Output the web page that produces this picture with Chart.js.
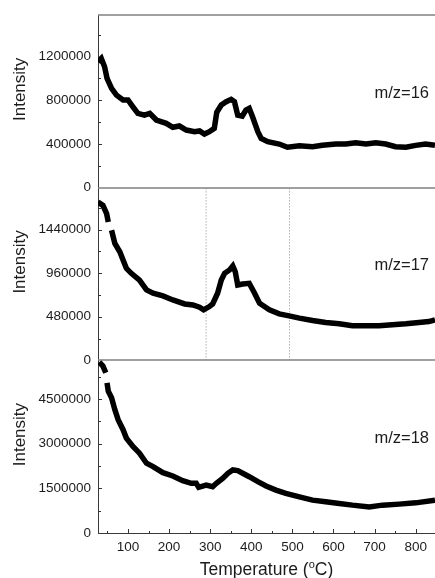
<!DOCTYPE html>
<html>
<head>
<meta charset="utf-8">
<script src="https://cdn.jsdelivr.net/npm/chart.js@4/dist/chart.umd.min.js"></script>
<style>
  html, body { margin: 0; padding: 0; background: #fff; }
  canvas { display: block; }
</style>
</head>
<body>
<canvas id="ms" width="435" height="578" style="width:435px;height:578px"></canvas>
<script>
// Mass-spectrometer signals recorded during temperature-programmed heating.
// m/z = 16
const temp16 = [27, 35, 43, 49, 60, 72, 88, 100, 112, 124, 140, 153, 169, 193, 209, 225, 242, 262, 274, 286,
  298, 310, 316, 327, 339, 351, 359, 367, 378, 387, 395, 403, 416, 424, 440, 468, 488, 517, 549, 573,
  606, 630, 654, 679, 703, 727, 751, 776, 800, 824, 847];
const int16 = [1153000, 1184000, 1107000, 1001000, 910000, 848000, 803000, 803000, 741000, 681000,
  665000, 681000, 620000, 589000, 553000, 565000, 528000, 513000, 520000, 491000,
  513000, 544000, 690000, 757000, 787000, 809000, 787000, 665000, 656000, 711000,
  727000, 650000, 513000, 452000, 421000, 400000, 370000, 384000, 375000, 388000,
  400000, 400000, 412000, 400000, 412000, 400000, 375000, 370000, 388000, 400000, 388000];

// m/z = 17 (null marks a short break in the trace)
const temp17 = [27, 39, 48, 52, 55, 60, 68, 80, 88, 96, 108, 128, 145, 161, 185, 209, 238, 258, 274, 284,
  298, 306, 318, 327, 335, 347, 355, 361, 367, 379, 395, 408, 420, 444, 468, 492, 517, 549, 581, 614,
  646, 679, 711, 743, 776, 808, 832, 847];
const int17 = [1742000, 1706000, 1615000, 1523000, null, 1432000, 1287000, 1195000, 1104000, 1013000,
  958000, 884000, 775000, 739000, 709000, 665000, 621000, 610000, 585000, 556000,
  592000, 621000, 739000, 884000, 958000, 994000, 1038000, 975000, 830000, 841000,
  848000, 739000, 629000, 556000, 512000, 490000, 465000, 438000, 416000, 402000,
  380000, 380000, 380000, 391000, 402000, 416000, 427000, 446000];

// m/z = 18
const temp18 = [30, 39, 46, 47, 49, 52, 60, 68, 76, 88, 96, 112, 128, 145, 161, 185, 209, 233, 254, 266,
  272, 290, 306, 315, 331, 343, 355, 367, 379, 395, 416, 436, 460, 484, 517, 549, 581, 614, 646, 687,
  719, 760, 800, 847];
const int18 = [5743000, 5608000, 5385000, null, 5047000, 4764000, 4541000, 4145000, 3807000, 3470000,
  3189000, 2905000, 2682000, 2345000, 2230000, 2027000, 1916000, 1757000, 1669000, 1669000,
  1534000, 1611000, 1554000, 1669000, 1838000, 2007000, 2118000, 2095000, 2007000, 1892000,
  1723000, 1578000, 1443000, 1331000, 1216000, 1105000, 1047000, 993000, 936000, 878000,
  936000, 970000, 1013000, 1105000];

// Panels, top to bottom
const panelIds = ['y16', 'y17', 'y18'];
const panelLabels = ['m/z=16', 'm/z=17', 'm/z=18'];
const panelMax = [1580000, 1900000, 5800000];
const yTicks16 = [0, 400000, 800000, 1200000];
const yTicks17 = [0, 480000, 960000, 1440000];
const yTicks18 = [0, 1500000, 3000000, 4500000];
const panelTicks = [yTicks16, yTicks17, yTicks18];

// Temperature axis
const tempMin = 27;
const tempMax = 847;
const xTicks = [100, 200, 300, 400, 500, 600, 700, 800];

// Reference temperatures marked in the m/z=17 panel
const markerTemps = [290, 493];

const yTitle = 'Intensity';
const xTitleParts = ['Temperature (', 'o', 'C)'];

const FONT = '"Liberation Sans", Arial, Helvetica, sans-serif';
const TEXT = '#1c1c1c';

function toPoints(xs, ys) {
  return xs.map((x, i) => ({ x: x, y: ys[i] }));
}

const traces = [toPoints(temp16, int16), toPoints(temp17, int17), toPoints(temp18, int18)];

const datasets = traces.map((pts, i) => ({
  data: pts,
  yAxisID: panelIds[i],
  borderColor: '#000',
  borderWidth: 5.5,
  borderJoinStyle: 'miter',
  borderCapStyle: 'butt',
  pointRadius: 0,
  tension: 0,
  spanGaps: false,
  order: 1
}));

markerTemps.forEach(t => {
  datasets.push({
    data: [{ x: t, y: 0 }, { x: t, y: panelMax[1] }],
    yAxisID: 'y17',
    borderColor: '#8a8a8a',
    borderWidth: 1,
    borderDash: [1, 2],
    pointRadius: 0,
    order: 2
  });
});

const scales = {
  x: {
    type: 'linear',
    position: 'bottom',
    min: tempMin,
    max: tempMax,
    grid: { display: false, drawTicks: false },
    border: { display: true, color: '#3a3a3a', width: 1 },
    afterBuildTicks: s => { s.ticks = xTicks.map(v => ({ value: v })); },
    ticks: {
      padding: 6,
      color: TEXT,
      font: { family: FONT, size: 13.5 },
      maxRotation: 0,
      autoSkip: false,
      callback: v => String(v)
    },
    afterFit: s => { s.height = 45; }
  }
};

panelIds.forEach((id, i) => {
  scales[id] = {
    type: 'linear',
    position: 'left',
    stack: 'signals',
    stackWeight: 1,
    weight: panelIds.length - i,
    min: 0,
    max: panelMax[i],
    grid: { display: false, drawTicks: false },
    border: { display: true, color: '#3a3a3a', width: 1 },
    afterBuildTicks: s => { s.ticks = panelTicks[i].map(v => ({ value: v })); },
    ticks: {
      padding: 7,
      color: TEXT,
      autoSkip: false,
      font: { family: FONT, size: 13.5 },
      callback: v => String(v)
    },
    afterFit: s => { s.width = 98; }
  };
});

// Panel separators, inward tick marks and text labels
const panelDecor = {
  id: 'panelDecor',
  beforeDatasetsDraw(chart) {
    const { ctx, chartArea: a } = chart;
    ctx.save();

    // horizontal frame line at the top of every panel
    ctx.strokeStyle = '#808080';
    ctx.lineWidth = 1.5;
    panelIds.forEach(id => {
      const s = chart.scales[id];
      const y = Math.round(s.top);
      ctx.beginPath();
      ctx.moveTo(a.left, y);
      ctx.lineTo(a.right, y);
      ctx.stroke();
    });

    // y ticks: major at each labelled value, minor halfway between
    ctx.strokeStyle = '#333';
    ctx.lineWidth = 1;
    panelIds.forEach((id, i) => {
      const s = chart.scales[id];
      const t = panelTicks[i];
      const half = (t[1] - t[0]) / 2;
      for (let k = 1; k * half < panelMax[i]; k++) {
        const y = Math.round(s.getPixelForValue(k * half)) + 0.5;
        const len = k % 2 === 0 ? 4 : 3;
        ctx.beginPath();
        ctx.moveTo(a.left, y);
        ctx.lineTo(a.left + len, y);
        ctx.stroke();
      }
    });

    // x ticks: major at each label, minor halfway between
    const sx = chart.scales.x;
    const halfX = (xTicks[1] - xTicks[0]) / 2;
    for (let k = 1; k * halfX <= tempMax; k++) {
      const t = k * halfX;
      if (t < tempMin) continue;
      const x = Math.round(sx.getPixelForValue(t)) + 0.5;
      const len = k % 2 === 0 ? 4 : 2;
      ctx.beginPath();
      ctx.moveTo(x, a.bottom);
      ctx.lineTo(x, a.bottom - len);
      ctx.stroke();
    }
    ctx.restore();
  },
  afterDraw(chart) {
    const { ctx, chartArea: a } = chart;
    ctx.save();
    ctx.fillStyle = TEXT;

    // panel names and rotated y-axis titles
    panelIds.forEach((id, i) => {
      const s = chart.scales[id];
      ctx.font = '16.5px ' + FONT;
      ctx.textAlign = 'right';
      ctx.textBaseline = 'middle';
      ctx.fillText(panelLabels[i], 429, s.top + 78);

      ctx.save();
      ctx.translate(20, s.top + (s.bottom - s.top) * 0.43);
      ctx.rotate(-Math.PI / 2);
      ctx.font = '17px ' + FONT;
      ctx.textAlign = 'center';
      ctx.textBaseline = 'middle';
      ctx.fillText(yTitle, 0, 0);
      ctx.restore();
    });

    // x-axis title with superscript degree mark
    const big = '17.5px ' + FONT;
    const small = '11px ' + FONT;
    ctx.textAlign = 'left';
    ctx.textBaseline = 'alphabetic';
    ctx.font = big;
    const w0 = ctx.measureText(xTitleParts[0]).width;
    const w2 = ctx.measureText(xTitleParts[2]).width;
    ctx.font = small;
    const w1 = ctx.measureText(xTitleParts[1]).width;
    const total = w0 + w1 + w2;
    let x = (a.left + a.right) / 2 - total / 2;
    const base = 575;
    ctx.font = big;
    ctx.fillText(xTitleParts[0], x, base);
    x += w0;
    ctx.font = small;
    ctx.fillText(xTitleParts[1], x, base - 7);
    x += w1;
    ctx.font = big;
    ctx.fillText(xTitleParts[2], x, base);
    ctx.restore();
  }
};

new Chart(document.getElementById('ms'), {
  type: 'line',
  data: { datasets },
  options: {
    responsive: false,
    animation: false,
    devicePixelRatio: 1,
    layout: { padding: { top: 15, left: 0, right: 0, bottom: 0 } },
    plugins: { legend: { display: false }, tooltip: { enabled: false } },
    scales
  },
  plugins: [panelDecor]
});
</script>
</body>
</html>
